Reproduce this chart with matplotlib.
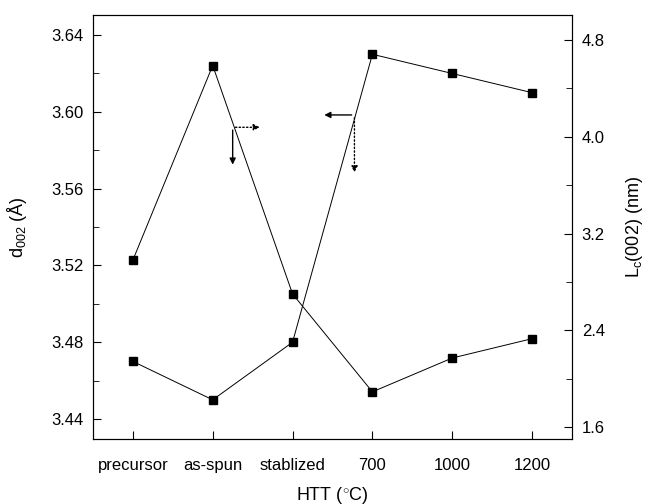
import matplotlib
matplotlib.use("Agg")
import matplotlib.pyplot as plt
from matplotlib.ticker import MultipleLocator

plt.rcParams['font.family'] = ['Liberation Sans', 'DejaVu Sans']
plt.rcParams['font.size'] = 12
plt.rcParams['mathtext.fontset'] = 'custom'
plt.rcParams['mathtext.rm'] = 'Liberation Sans'
plt.rcParams['mathtext.it'] = 'Liberation Sans'

# data
htt = ['precursor', 'as-spun', 'stablized', '700', '1000', '1200']
d002 = [3.470, 3.450, 3.480, 3.630, 3.620, 3.610]
lc002 = [2.98, 4.59, 2.70, 1.89, 2.17, 2.33]

x = list(range(len(htt)))

fig = plt.figure(figsize=(6.5, 5.04), dpi=100)
ax = fig.add_axes([0.143, 0.129, 0.737, 0.841])
ax2 = ax.twinx()

ax.plot(x, d002, color='black', lw=0.7, marker='s', ms=6)
ax2.plot(x, lc002, color='black', lw=0.7, marker='s', ms=6)

ax.set_xlim(-0.5, 5.5)
ax.set_ylim(3.4296, 3.6504)
ax2.set_ylim(1.50, 5.007)

ax.set_xticks(x)
ax.set_xticklabels(htt)
ax.yaxis.set_major_locator(MultipleLocator(0.04))
ax.yaxis.set_minor_locator(MultipleLocator(0.02))
ax.yaxis.set_major_formatter(matplotlib.ticker.FormatStrFormatter('%.2f'))
ax2.yaxis.set_major_locator(MultipleLocator(0.8))
ax2.yaxis.set_minor_locator(MultipleLocator(0.4))
ax2.yaxis.set_major_formatter(matplotlib.ticker.FormatStrFormatter('%.1f'))

ax.tick_params(axis='both', which='both', direction='in', labelsize=12)
ax.tick_params(axis='x', length=6, pad=14)
ax.tick_params(axis='y', which='major', length=6, pad=7)
ax.tick_params(axis='y', which='minor', length=4)
ax2.tick_params(axis='y', which='both', direction='in', labelsize=12)
ax2.tick_params(axis='y', which='major', length=6, pad=7)
ax2.tick_params(axis='y', which='minor', length=4)

ax.set_xlabel('HTT ($^{\\circ}$C)', fontsize=13, labelpad=8)
ax.set_ylabel('d$_{002}$ (Å)', fontsize=13, labelpad=16)
ax2.set_ylabel('L$_{c}$(002) (nm)', fontsize=13, labelpad=14)

# axis indicator arrows
arr = dict(arrowstyle='-|>', color='black', lw=1.0, mutation_scale=9)
ax2.annotate('', xy=(1.625, 4.079), xytext=(1.25, 4.079), arrowprops=dict(arr, linestyle=':'))
ax2.annotate('', xy=(1.25, 3.747), xytext=(1.25, 4.079), arrowprops=arr)
ax.annotate('', xy=(2.3625, 3.5984), xytext=(2.775, 3.5984), arrowprops=arr)
ax.annotate('', xy=(2.775, 3.567), xytext=(2.775, 3.5984), arrowprops=dict(arr, linestyle=':'))

fig.savefig('out.png', dpi=100)
